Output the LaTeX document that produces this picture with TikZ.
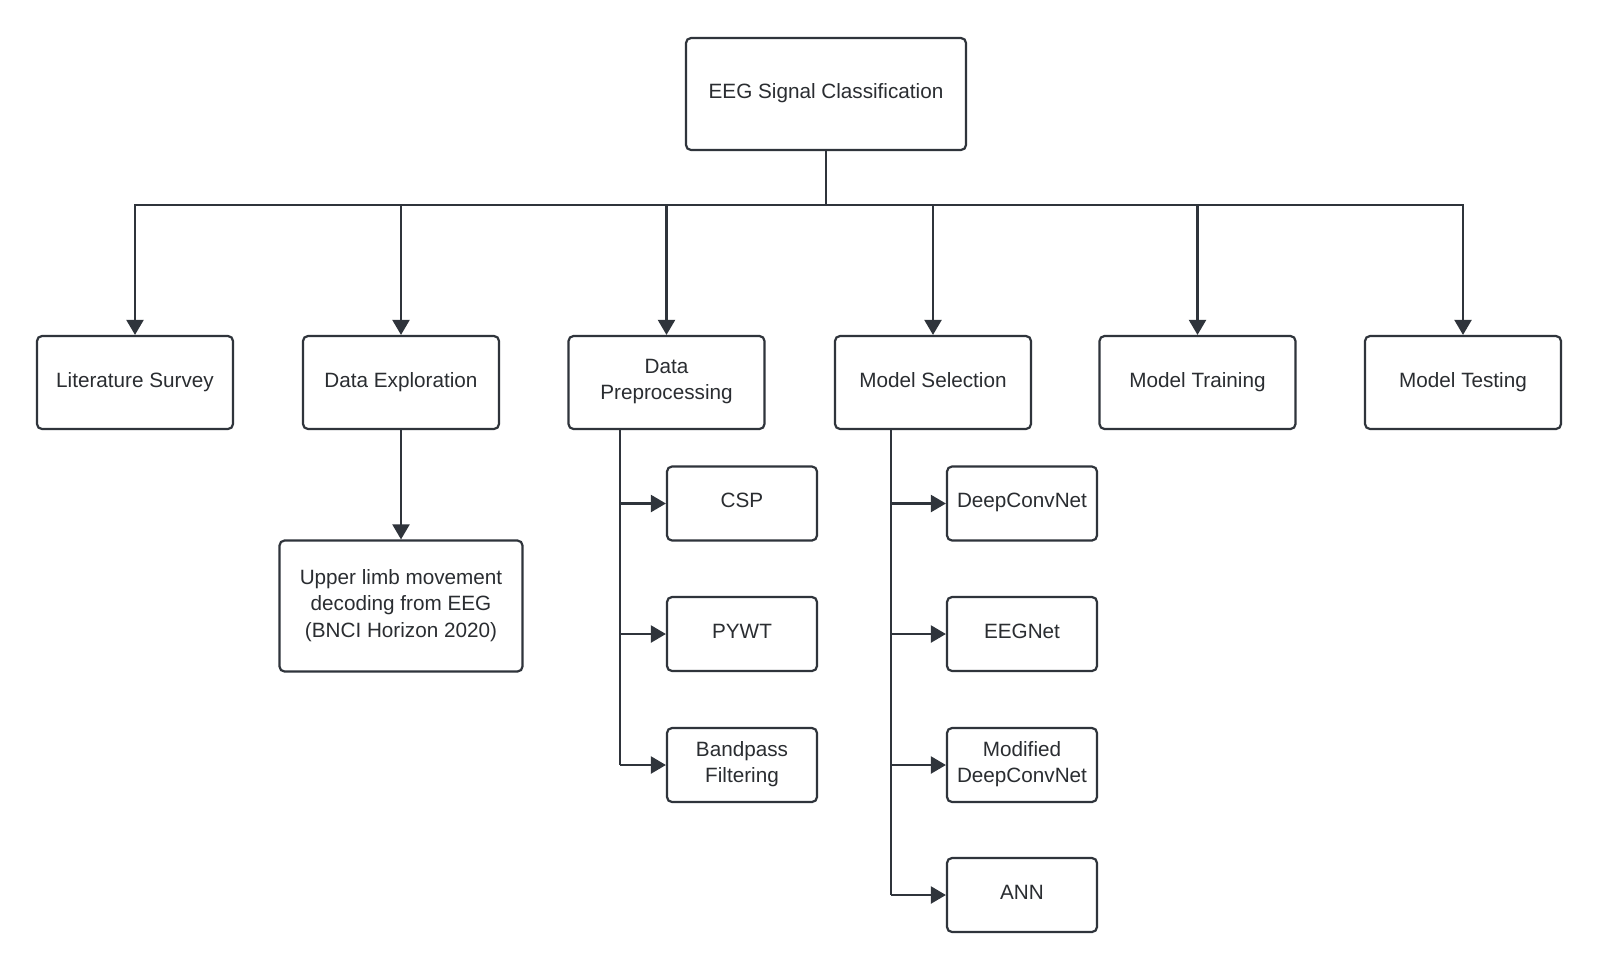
\documentclass[tikz,border=0pt]{standalone}
\usepackage{fontspec}
\setmainfont{Liberation Sans}
\usetikzlibrary{arrows.meta}
\definecolor{ink}{HTML}{2F343B}
\definecolor{txt}{HTML}{2A2D31}
% fixed line box so every label sits at the same height in its box
\newcommand\linestrut{\rule[-5.5pt]{0pt}{17.5pt}}
\begin{document}
\begin{tikzpicture}[x=1pt,y=-1pt,
  box/.style={draw=ink, line width=2.2pt, rounded corners=5pt, fill=white,
    align=center, text=txt, inner sep=0pt,
    font=\fontsize{20.7}{26}\selectfont,
    execute at begin node=\linestrut, execute at end node=\linestrut},
  lvl/.style={box, minimum width=196pt, minimum height=93pt},
  leaf/.style={box, minimum width=150pt, minimum height=74pt},
  link/.style={draw=ink, line width=2.2pt},
  arr/.style={link, -{Triangle[length=15pt,width=17pt]}}]
  % canvas
  \fill[white] (0,0) rectangle (1600,970);
  \useasboundingbox (0,0) rectangle (1600,970);

  % root
  \node[box, minimum width=280pt, minimum height=112pt] (root) at (826,94) {EEG Signal Classification};

  % first level
  \node[lvl] (lit)   at (135,382.5)  {Literature Survey};
  \node[lvl] (explo) at (401,382.5)  {Data Exploration};
  \node[lvl] (prep)  at (666.5,382.5) {Data\\Preprocessing};
  \node[lvl] (sel)   at (933,382.5)  {Model Selection};
  \node[lvl] (train) at (1197.5,382.5) {Model Training};
  \node[lvl] (test)  at (1463,382.5) {Model Testing};

  % dataset
  \node[box, minimum width=243pt, minimum height=131pt,
        font=\fontsize{20.7}{26.5}\selectfont] (data) at (401,606)
    {Upper limb movement\\decoding from EEG\\(BNCI Horizon 2020)};

  % preprocessing steps
  \node[leaf] (csp)  at (742,503.5) {CSP};
  \node[leaf] (pywt) at (742,634)   {PYWT};
  \node[leaf] (band) at (742,765)   {Bandpass\\Filtering};

  % candidate models
  \node[leaf] (dcn)  at (1022,503.5) {DeepConvNet};
  \node[leaf] (eeg)  at (1022,634)   {EEGNet};
  \node[leaf] (mdcn) at (1022,765)   {Modified\\DeepConvNet};
  \node[leaf] (ann)  at (1022,895)   {ANN};

  % root to first level
  \coordinate (bus) at (826,205);
  \draw[link] (root.south) -- (bus);
  \foreach \c in {lit,explo,prep,sel,train,test}
    \draw[arr] (bus) -| (\c.north);

  % exploration to dataset
  \draw[arr] (explo.south) -- (data.north);

  % preprocessing spine
  \coordinate (ps) at (620,0);
  \draw[link] (prep.south -| ps) -- (band.west -| ps);
  \foreach \c in {csp,pywt,band}
    \draw[arr] (\c.west -| ps) -- (\c.west);

  % model selection spine
  \coordinate (ms) at (891,0);
  \draw[link] (sel.south -| ms) -- (ann.west -| ms);
  \foreach \c in {dcn,eeg,mdcn,ann}
    \draw[arr] (\c.west -| ms) -- (\c.west);
\end{tikzpicture}
\end{document}
